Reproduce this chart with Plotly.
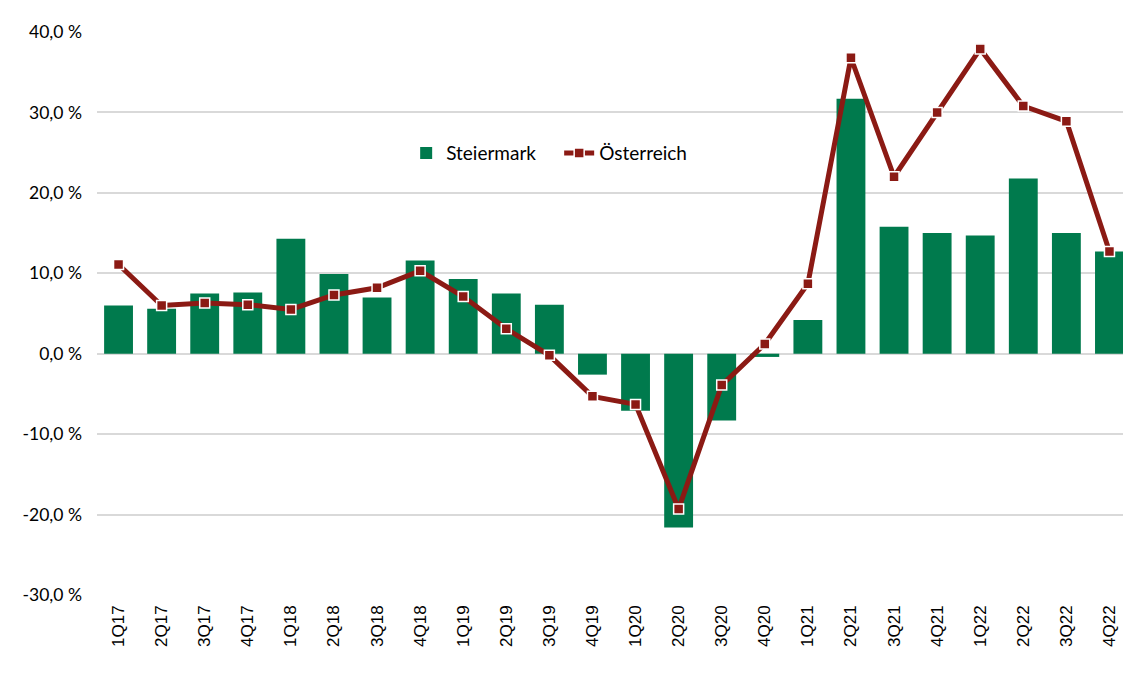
import plotly.graph_objects as go

quarters = ["1Q17","2Q17","3Q17","4Q17","1Q18","2Q18","3Q18","4Q18","1Q19","2Q19","3Q19","4Q19",
            "1Q20","2Q20","3Q20","4Q20","1Q21","2Q21","3Q21","4Q21","1Q22","2Q22","3Q22","4Q22"]
steiermark = [6.0, 5.6, 7.5, 7.6, 14.3, 9.9, 7.0, 11.6, 9.3, 7.5, 6.1, -2.6,
              -7.1, -21.6, -8.3, -0.4, 4.2, 31.7, 15.8, 15.0, 14.7, 21.8, 15.0, 12.7]
oesterreich = [11.1, 6.0, 6.3, 6.1, 5.5, 7.3, 8.2, 10.3, 7.1, 3.1, -0.2, -5.3,
               -6.3, -19.3, -3.9, 1.2, 8.7, 36.8, 22.0, 30.0, 37.9, 30.8, 28.9, 12.7]
y_ticks = [-30, -20, -10, 0, 10, 20, 30, 40]
y_labels = [("%.1f" % v).replace(".", ",") + " %" for v in y_ticks]

fig = go.Figure()
fig.add_trace(go.Bar(x=quarters, y=steiermark, name="Steiermark",
                     marker=dict(color="#007A4D", line=dict(width=0))))
fig.add_trace(go.Scatter(x=quarters, y=oesterreich, name="Österreich", mode="lines+markers",
                         line=dict(color="#8B1A14", width=5),
                         marker=dict(symbol="square", size=10, color="#8B1A14",
                                     line=dict(color="white", width=1.5))))

fig.update_layout(
    width=1123, height=667,
    margin=dict(l=89, r=0, t=24, b=80),
    paper_bgcolor="white", plot_bgcolor="white",
    bargap=0.33,
    font=dict(family="Lato, Open Sans, sans-serif", size=17, color="#000000"),
    legend=dict(orientation="h", x=0.299, y=0.785, xanchor="left", yanchor="middle",
                font=dict(size=19), bgcolor="rgba(0,0,0,0)", traceorder="normal",
                entrywidth=108, entrywidthmode="pixels"),
    showlegend=True,
)
fig.update_yaxes(range=[-30, 40], tickvals=y_ticks, ticktext=y_labels,
                 showgrid=True, gridcolor="#D9D9D9", gridwidth=1.5,
                 zeroline=True, zerolinecolor="#D9D9D9", zerolinewidth=1.5,
                 showline=False, ticks="", ticklabelstandoff=14, automargin=False,
                 tickfont=dict(size=17.5, family="Lato, Open Sans, sans-serif"))
fig.update_xaxes(range=[-0.5, 23.5], tickangle=-90, showgrid=False, showline=False, ticks="",
                 automargin=False, ticklabelstandoff=6,
                 tickfont=dict(size=17, family="Liberation Sans, Arial, sans-serif"))

fig.write_html("out.html")
